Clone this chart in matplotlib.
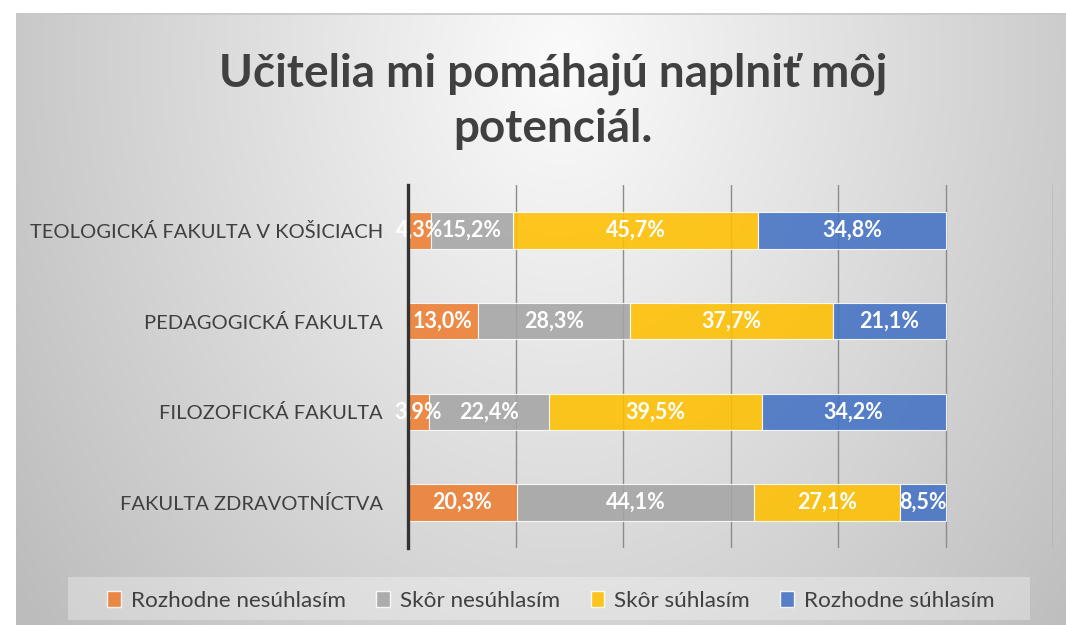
import numpy as np
import matplotlib
matplotlib.use("Agg")
import matplotlib.pyplot as plt
from matplotlib.patches import Rectangle, Patch

plt.rcParams['font.family'] = ['Lato', 'DejaVu Sans']

title = "Učitelia mi pomáhajú naplniť môj\npotenciál."
categories = ["TEOLOGICKÁ FAKULTA V KOŠICIACH", "PEDAGOGICKÁ FAKULTA",
              "FILOZOFICKÁ FAKULTA", "FAKULTA ZDRAVOTNÍCTVA"]
series_names = ["Rozhodne nesúhlasím", "Skôr nesúhlasím", "Skôr súhlasím", "Rozhodne súhlasím"]
rozhodne_nesuhlasim = [4.3, 13.0, 3.9, 20.3]
skor_nesuhlasim = [15.2, 28.3, 22.4, 44.1]
skor_suhlasim = [45.7, 37.7, 39.5, 27.1]
rozhodne_suhlasim = [34.8, 21.1, 34.2, 8.5]
series = [rozhodne_nesuhlasim, skor_nesuhlasim, skor_suhlasim, rozhodne_suhlasim]
colors = ["#ED7D31", "#A5A5A5", "#FFC000", "#4472C4"]

W, H = 1066, 625
fig = plt.figure(figsize=(W / 100, H / 100), dpi=100)
fig.patch.set_facecolor("white")

# background panel with radial gradient
px0, py0, px1, py1 = 16, 13, 1066, 625
bg = fig.add_axes([px0 / W, 0, (px1 - px0) / W, (py1 - py0) / H])
bg.set_axis_off()
gx = np.linspace(0, 1, 400)
gy = np.linspace(0, 1, 300)
X, Y = np.meshgrid(gx, gy)
r = np.sqrt(((X - 0.52) / 0.55) ** 2 + ((Y - 0.08) / 1.25) ** 2)
v = np.clip(0.985 - 0.21 * r, 0.74, 1.0)
img = np.dstack([v, v, v])
bg.imshow(img, aspect='auto', extent=[0, 1, 1, 0], interpolation='bilinear')
bg.set_xlim(0, 1)
bg.set_ylim(1, 0)
bg.plot([0, 1], [0.002, 0.002], color="#c8c8c8", lw=1.2)

# legend box
fig.patches.append(Rectangle((68 / W, (H - 620) / H), (1030 - 68) / W, 43 / H,
                             transform=fig.transFigure, facecolor="white", alpha=0.3,
                             edgecolor="none", zorder=1))

ax = fig.add_axes([408 / W, (H - 548) / H, (1053 - 408) / W, (548 - 185) / H])
ax.patch.set_alpha(0)
y = np.arange(len(categories))
left = np.zeros(len(categories))
for name, vals, c in zip(series_names, series, colors):
    vals = np.array(vals)
    ax.barh(y, vals, left=left, height=0.4, color=c, alpha=0.88,
            edgecolor=(1, 1, 1, 0.5), linewidth=0.8, label=name, zorder=3)
    for yi, l, v_ in zip(y, left, vals):
        ax.text(l + v_ / 2, yi, f"{v_:.1f}%".replace(".", ","), ha="center", va="center",
                color="white", fontsize=15.5, fontweight="bold", zorder=4)
    left = left + vals

ax.set_xlim(0, 120)
ax.set_ylim(len(categories) - 0.5, -0.5)
ax.set_xticks(np.arange(0, 121, 20))
ax.set_xticklabels([])
ax.tick_params(axis='x', length=0)
ax.tick_params(axis='y', length=0, pad=18, labelsize=14.5, labelcolor="#404040")
ax.set_yticks(y)
ax.set_yticklabels(categories)
ax.grid(axis='x', color="#8c8c8c", linewidth=1.0, zorder=0)
ax.set_axisbelow(True)
for s in ["top", "right", "bottom"]:
    ax.spines[s].set_visible(False)
ax.spines["left"].set_color("#333333")
ax.spines["left"].set_linewidth(2.4)
ax.spines["left"].set_zorder(5)

fig.text(553 / W, (H - 101) / H, title, ha="center", va="center", fontsize=33,
         fontweight="bold", color="#404040", linespacing=1.38)

handles = [Patch(facecolor=c, alpha=0.88, edgecolor=(1, 1, 1, 0.5)) for c in colors]
fig.legend(handles, series_names, loc="center", bbox_to_anchor=(551 / W, (H - 601) / H),
           ncol=4, frameon=False, fontsize=16.2, labelcolor="#404040",
           handlelength=0.6, handleheight=0.7, handletextpad=0.45, columnspacing=1.35)

fig.savefig("out.png", dpi=100)
